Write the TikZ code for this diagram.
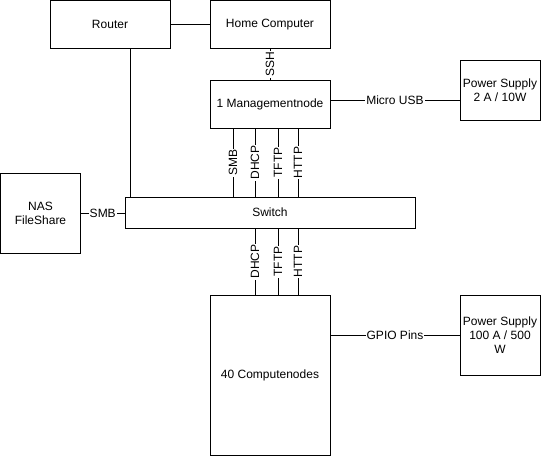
\documentclass[tikz,border=0pt]{standalone}
\usepackage{fontspec}
\setmainfont{Liberation Sans}
\begin{document}
\begin{tikzpicture}[x=1pt,y=-1pt,
  box/.style={draw=black, line width=1pt, fill=white, inner sep=0pt, align=center,
    font=\fontsize{12pt}{14pt}\selectfont},
  conn/.style={draw=black, line width=1pt},
  lbl/.style={fill=white, inner sep=1pt, font=\fontsize{12pt}{14pt}\selectfont},
  vlbl/.style={lbl, rotate=90}]
\useasboundingbox[fill=white] (0,0) rectangle (541,456);
% nodes
\node[box, minimum width=120pt, minimum height=48pt] (router) at (110,24.5) {Router};
\node[box, minimum width=120pt, minimum height=48pt] (home) at (270,24.5) {Home Computer};
\node[box, minimum width=120pt, minimum height=48pt] (mgmt) at (270,104) {1 Managementnode};
\node[box, minimum width=80pt, minimum height=60pt] (ps1) at (500,90) {Power Supply\\2 A / 10W};
\node[box, minimum width=80pt, minimum height=80pt] (nas) at (40.5,213) {NAS\\FileShare};
\node[box, minimum width=290pt, minimum height=31pt] (switch) at (270,212.5) {Switch};
\node[box, minimum width=120pt, minimum height=160pt] (compute) at (270,375) {40 Computenodes};
\node[box, minimum width=80pt, minimum height=80pt] (ps2) at (500,335) {Power Supply\\100 A / 500\\W};
% connectors
\draw[conn] (router.east) -- (home.west);
\draw[conn] (router.south -| 130,0) -- (switch.north -| 130,0);
\draw[conn] (home.south) -- node[vlbl] {SSH} (mgmt.north);
\draw[conn] ([yshift=4pt]mgmt.east) -- node[lbl] {Micro USB} ([yshift=4pt]mgmt.east -| ps1.west);
\foreach \xx/\tt in {233/SMB,255/DHCP,278/TFTP,298/HTTP}{
  \draw[conn] (mgmt.south -| \xx,0) -- node[vlbl] {\tt} (switch.north -| \xx,0);
}
\foreach \xx/\tt in {255/DHCP,278/TFTP,298/HTTP}{
  \draw[conn] (switch.south -| \xx,0) -- node[vlbl] {\tt} (compute.north -| \xx,0);
}
\draw[conn] (nas.east) -- node[lbl] {SMB} (nas.east -| switch.west);
\draw[conn] (ps2.west -| compute.east) -- node[lbl] {GPIO Pins} (ps2.west);
\end{tikzpicture}
\end{document}
